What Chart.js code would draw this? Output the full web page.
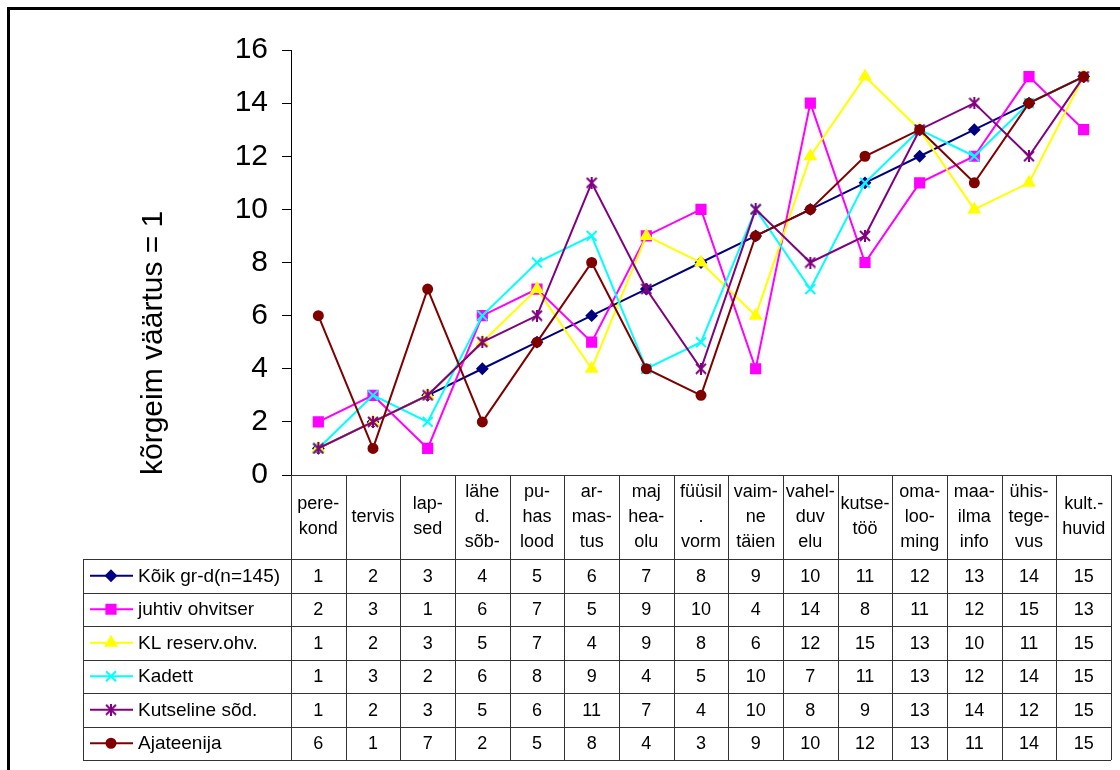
<!DOCTYPE html>
<html>
<head>
<meta charset="utf-8">
<script src="https://cdn.jsdelivr.net/npm/chart.js@4.4.0/dist/chart.umd.min.js"></script>
<style>
body { margin: 0; background: #fff; }
</style>
</head>
<body>
<canvas id="myChart" width="1120" height="770"></canvas>
<script>
// category labels (one array entry per line of the label)
const categories = [
    ['pere-', 'kond'], ['tervis'], ['lap-', 'sed'], ['lähe', 'd.', 'sõb-'], ['pu-', 'has', 'lood'],
    ['ar-', 'mas-', 'tus'], ['maj', 'hea-', 'olu'], ['füüsil', '.', 'vorm'], ['vaim-', 'ne', 'täien'],
    ['vahel-', 'duv', 'elu'], ['kutse-', 'töö'], ['oma-', 'loo-', 'ming'], ['maa-', 'ilma', 'info'],
    ['ühis-', 'tege-', 'vus'], ['kult.-', 'huvid']
];

const koik       = [1, 2, 3, 4, 5, 6, 7, 8, 9, 10, 11, 12, 13, 14, 15];
const juhtiv     = [2, 3, 1, 6, 7, 5, 9, 10, 4, 14, 8, 11, 12, 15, 13];
const klReserv   = [1, 2, 3, 5, 7, 4, 9, 8, 6, 12, 15, 13, 10, 11, 15];
const kadett     = [1, 3, 2, 6, 8, 9, 4, 5, 10, 7, 11, 13, 12, 14, 15];
const kutseline  = [1, 2, 3, 5, 6, 11, 7, 4, 10, 8, 9, 13, 14, 12, 15];
const ajateenija = [6, 1, 7, 2, 5, 8, 4, 3, 9, 10, 12, 13, 11, 14, 15];

const seriesNames = ['Kõik gr-d(n=145)', 'juhtiv ohvitser', 'KL reserv.ohv.', 'Kadett', 'Kutseline sõd.', 'Ajateenija'];
const yTicks = [0, 2, 4, 6, 8, 10, 12, 14, 16];
const yTitle = 'kõrgeim väärtus = 1';

const FONT = '"Liberation Sans", Arial, sans-serif';

// excel style star marker: an X with a vertical bar through it
function starMarker(color) {
    const c = document.createElement('canvas');
    c.width = 12; c.height = 12;
    const g = c.getContext('2d');
    g.strokeStyle = color;
    g.lineWidth = 2;
    g.beginPath();
    g.moveTo(6, 0); g.lineTo(6, 12);
    g.moveTo(1, 1); g.lineTo(11, 11);
    g.moveTo(11, 1); g.lineTo(1, 11);
    g.stroke();
    return c;
}

const styles = [
    { color: '#000080', pointStyle: 'rectRot', radius: 5 },
    { color: '#FF00FF', pointStyle: 'rect', radius: 6.5 },
    { color: '#FFFF00', pointStyle: 'triangle', radius: 6 },
    { color: '#00FFFF', pointStyle: 'crossRot', radius: 7 },
    { color: '#800080', pointStyle: starMarker('#800080'), radius: 6 },
    { color: '#800000', pointStyle: 'circle', radius: 4.5 }
];

const values = [koik, juhtiv, klReserv, kadett, kutseline, ajateenija];

const datasets = values.map((v, i) => ({
    label: seriesNames[i],
    data: v,
    borderColor: styles[i].color,
    backgroundColor: styles[i].color,
    pointBackgroundColor: styles[i].color,
    pointBorderColor: styles[i].color,
    pointStyle: styles[i].pointStyle,
    pointRadius: styles[i].radius,
    pointBorderWidth: 2,
    borderWidth: 2,
    tension: 0,
    order: values.length - i   // later series drawn on top, like excel
}));

const tablePlugin = {
    id: 'dataTable',
    beforeDraw(chart) {
        const ctx = chart.ctx;
        ctx.save();
        ctx.fillStyle = '#fff';
        ctx.fillRect(0, 0, chart.width, chart.height);
        ctx.restore();
    },
    afterDraw(chart) {
        const ctx = chart.ctx;
        const x = chart.scales.x;
        const area = chart.chartArea;
        const colW = x.getPixelForValue(1) - x.getPixelForValue(0);
        const left = area.left, right = area.right;
        const top = area.bottom;
        const catBottom = top + 84;
        const rowH = 33.5;
        const bottom = catBottom + rowH * values.length;
        const legendLeft = 83;

        ctx.save();
        ctx.strokeStyle = '#333';
        ctx.lineWidth = 1;
        ctx.beginPath();
        // horizontal lines
        ctx.moveTo(left, top + 0.5); ctx.lineTo(right, top + 0.5);
        for (let r = 0; r <= values.length; r++) {
            const y = Math.round(catBottom + r * rowH) + 0.5;
            ctx.moveTo(legendLeft, y); ctx.lineTo(right, y);
        }
        // vertical lines
        for (let c = 0; c <= categories.length; c++) {
            const xx = Math.round(x.getPixelForValue(c) - colW / 2) + 0.5;
            ctx.moveTo(xx, top); ctx.lineTo(xx, bottom);
        }
        ctx.moveTo(legendLeft + 0.5, catBottom); ctx.lineTo(legendLeft + 0.5, bottom);
        ctx.stroke();

        // category labels
        ctx.fillStyle = '#000';
        ctx.font = '18px ' + FONT;
        ctx.textAlign = 'center';
        ctx.textBaseline = 'middle';
        const lineH = 25;
        categories.forEach((lines, c) => {
            const cx = x.getPixelForValue(c);
            const cy = (top + catBottom) / 2;
            lines.forEach((t, k) => {
                ctx.fillText(t, cx, cy + (k - (lines.length - 1) / 2) * lineH);
            });
        });

        // rows: legend key + values
        values.forEach((v, r) => {
            const cy = catBottom + (r + 0.5) * rowH;
            const st = styles[r];
            ctx.strokeStyle = st.color;
            ctx.lineWidth = 2;
            ctx.beginPath();
            ctx.moveTo(90, cy); ctx.lineTo(133, cy);
            ctx.stroke();
            ctx.fillStyle = st.color;
            Chart.helpers.drawPoint(ctx, {
                pointStyle: st.pointStyle,
                radius: st.radius,
                rotation: 0,
                borderWidth: 2
            }, 111, cy);
            ctx.fillStyle = '#000';
            ctx.textAlign = 'left';
            ctx.font = '19px ' + FONT;
            ctx.fillText(seriesNames[r], 138, cy + 1);
            ctx.font = '18px ' + FONT;
            ctx.textAlign = 'center';
            v.forEach((n, c) => {
                ctx.fillText(String(n), x.getPixelForValue(c), cy + 1);
            });
        });

        // outer frame of the chart object
        ctx.strokeStyle = '#000';
        ctx.lineWidth = 3;
        ctx.strokeRect(8.5, 8.5, 1200, 1200);
        ctx.restore();
    }
};

const ctx = document.getElementById('myChart').getContext('2d');
const myChart = new Chart(ctx, {
    type: 'line',
    data: {
        labels: categories.map(l => l.join(' ')),
        datasets: datasets
    },
    options: {
        responsive: false,
        animation: false,
        layout: {
            padding: { left: 132, top: 50, right: 7, bottom: 295 }
        },
        plugins: {
            legend: { display: false },
            tooltip: { enabled: false }
        },
        scales: {
            x: {
                display: false,
                offset: true
            },
            y: {
                min: yTicks[0],
                max: yTicks[yTicks.length - 1],
                afterBuildTicks: scale => {
                    scale.ticks = yTicks.map(v => ({ value: v }));
                },
                afterFit: scale => {
                    scale.width = 159;
                },
                border: { color: '#000', width: 1 },
                grid: {
                    drawOnChartArea: false,
                    drawTicks: true,
                    tickLength: 9,
                    color: '#000'
                },
                ticks: {
                    color: '#000',
                    padding: 14,
                    font: { family: FONT, size: 30 }
                },
                title: {
                    display: true,
                    text: yTitle,
                    align: 'start',
                    color: '#000',
                    padding: { top: 4, bottom: 4 },
                    font: { family: FONT, size: 30 }
                }
            }
        }
    },
    plugins: [tablePlugin]
});
</script>
</body>
</html>
